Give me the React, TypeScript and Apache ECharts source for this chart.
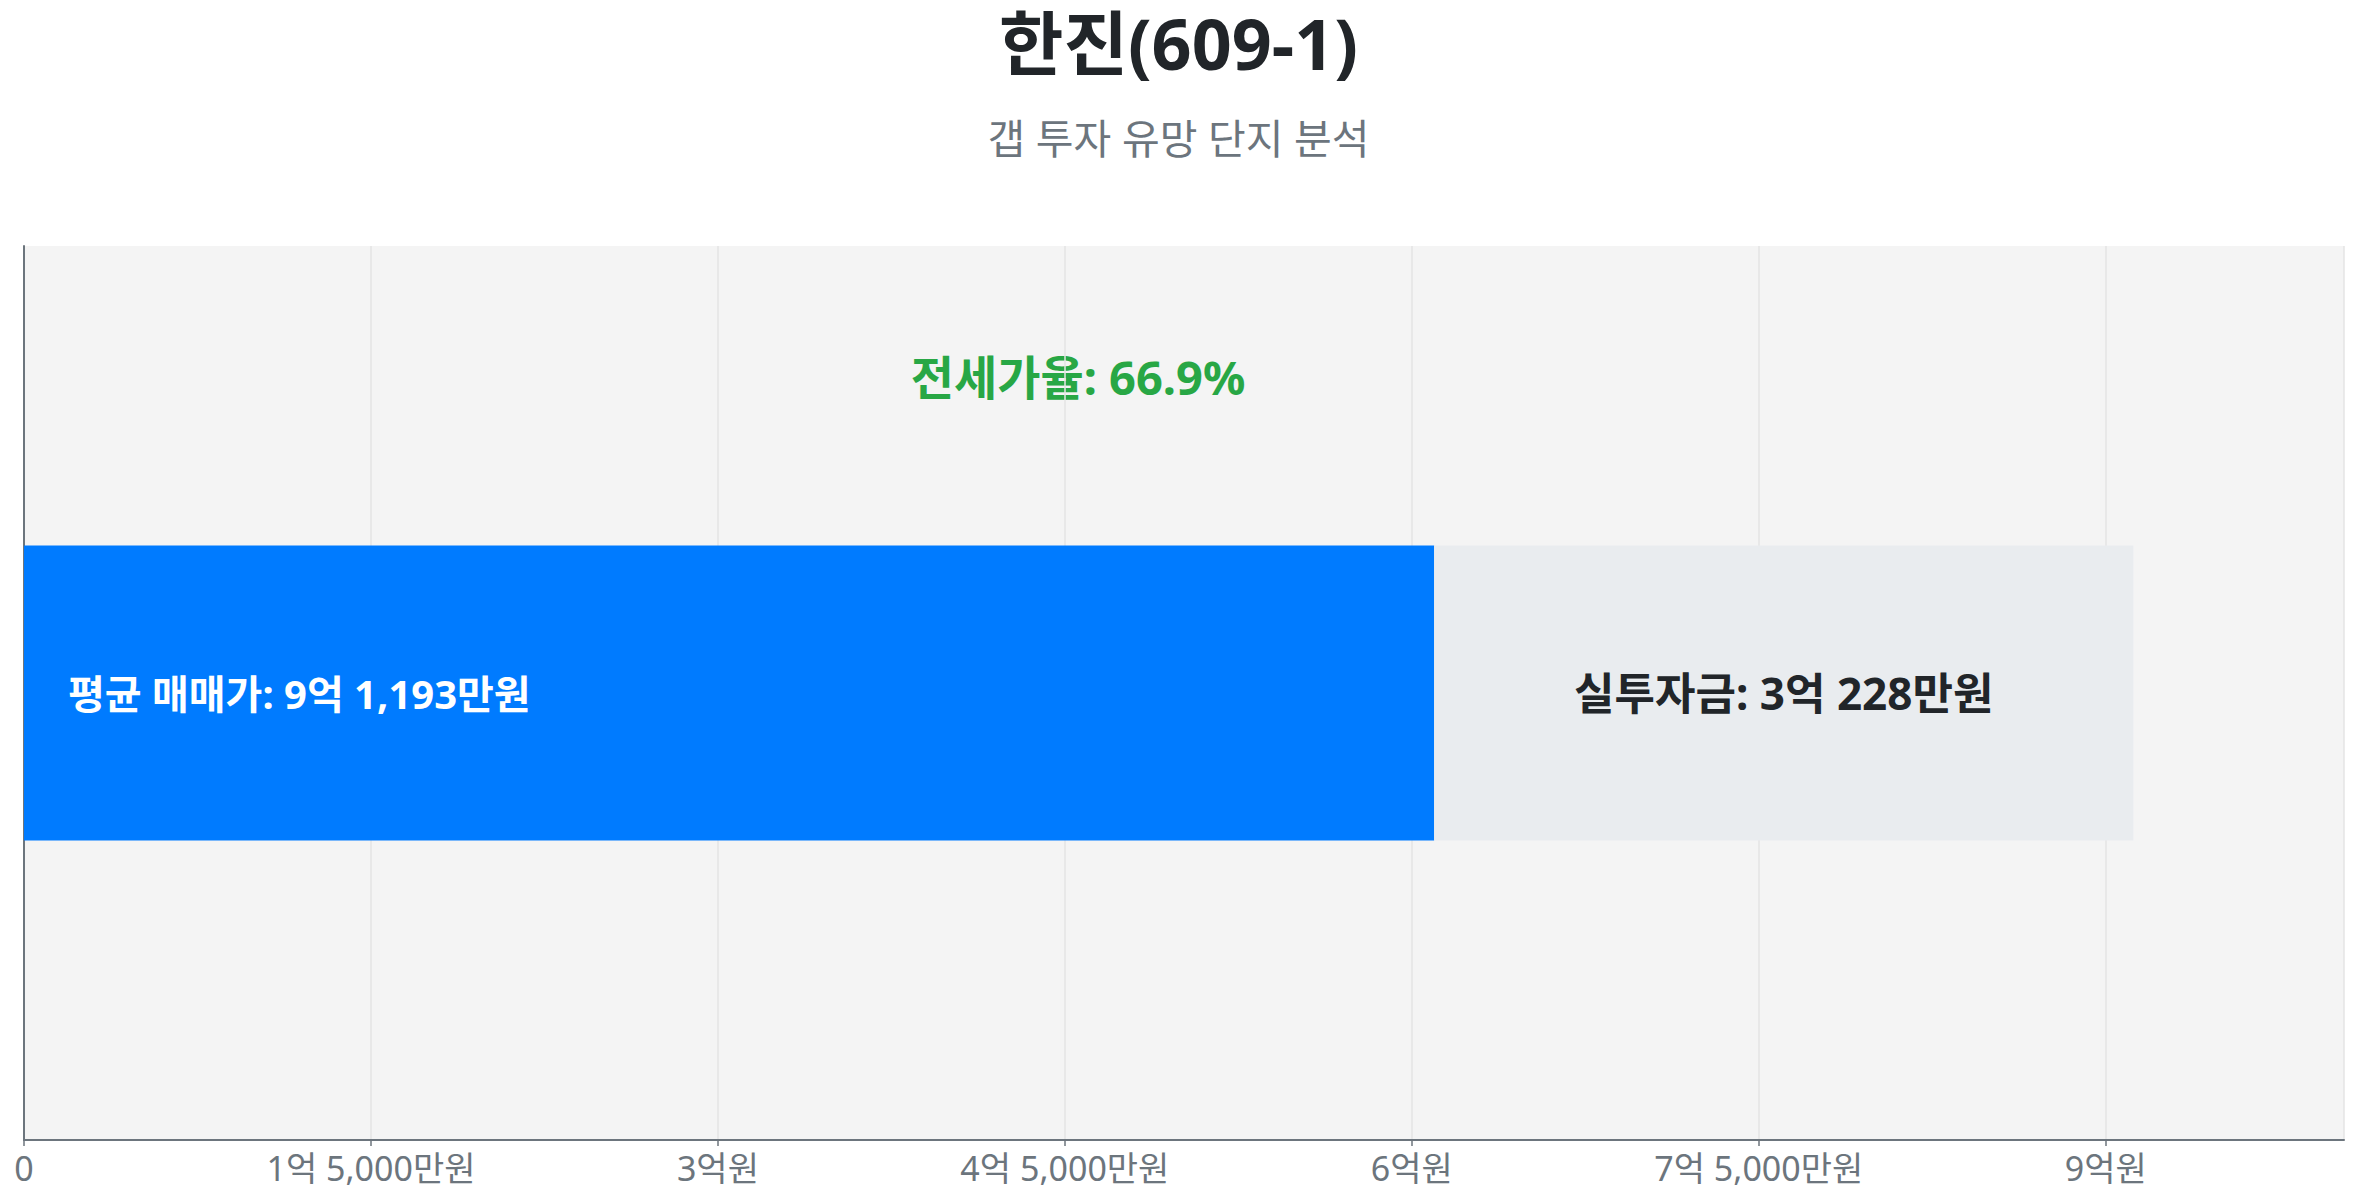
import React, { useRef, useEffect } from "react";
import * as echarts from "echarts";

// 단위: 만원
const complexName = "한진(609-1)";
const subtitle = "갭 투자 유망 단지 분석";
const categories = [complexName];
const avgPrice = [91193];
const jeonsePrice = [60965];
const gapAmount = [30228];
const xTickValues = [0, 15000, 30000, 45000, 60000, 75000, 90000];
const xTickLabels = ["0", "1억 5,000만원", "3억원", "4억 5,000만원", "6억원", "7억 5,000만원", "9억원"];
const xMax = 100300;

const FONT = "'Noto Sans', 'Noto Sans CJK KR', sans-serif";

const fmtWon = (v: number) => {
  const eok = Math.floor(v / 10000);
  const man = v % 10000;
  if (man === 0) return `${eok}억원`;
  return `${eok}억 ${man.toLocaleString("en-US")}만원`;
};

const App = function () {
  const chart = useRef<HTMLDivElement>(null);
  useEffect(() => {
    if (!chart.current) return;
    const myChart = echarts.init(chart.current, null, { renderer: "svg" });
    const ratio = ((jeonsePrice[0] / avgPrice[0]) * 100).toFixed(1);
    const option = {
      animation: false,
      title: [
        {
          text: complexName,
          left: "center",
          top: 0,
          padding: 0,
          textStyle: { fontFamily: FONT, fontSize: 70, lineHeight: 70, fontWeight: "bold", color: "#212529" },
        },
        {
          text: subtitle,
          left: "center",
          top: 104,
          textStyle: { fontFamily: FONT, fontSize: 41, fontWeight: "normal", color: "#6c757d" },
        },
      ],
      graphic: [
        {
          type: "text",
          x: 1070,
          y: 369,
          style: {
            text: `전세가율: ${ratio}%`,
            fill: "#28a745",
            font: `bold 47px ${FONT}`,
            textAlign: "center",
            textVerticalAlign: "middle",
          },
        },
      ],
      grid: {
        left: 16,
        right: 5,
        top: 238,
        bottom: 54,
        show: true,
        backgroundColor: "#f4f4f4",
        borderWidth: 0,
      },
      xAxis: {
        type: "value",
        min: 0,
        max: xMax,
        interval: 15000,
        axisLine: { show: true, lineStyle: { color: "#6c757d", width: 2 } },
        axisTick: { show: true, length: 6, lineStyle: { color: "#6c757d", width: 1.5 } },
        splitLine: { show: true, lineStyle: { color: "#e4e4e4", width: 1.5 } },
        axisLabel: {
          showMaxLabel: false,
          color: "#6c757d",
          fontFamily: FONT,
          fontSize: 34,
          margin: 11,
          formatter: (v: number) => {
            const i = xTickValues.indexOf(v);
            return i >= 0 ? xTickLabels[i] : "";
          },
        },
      },
      yAxis: {
        type: "category",
        data: categories,
        axisLine: { show: true, lineStyle: { color: "#6c757d", width: 2 } },
        axisTick: { show: false },
        axisLabel: { show: false },
      },
      series: [
        {
          name: "전세가",
          type: "bar",
          stack: "total",
          barWidth: "33%",
          data: jeonsePrice,
          itemStyle: { color: "#007bff" },
          label: {
            show: true,
            position: "insideLeft",
            distance: 44,
            formatter: () => `평균 매매가: ${fmtWon(avgPrice[0])}`,
            color: "#ffffff",
            fontFamily: FONT,
            fontSize: 40,
            fontWeight: "bold",
          },
        },
        {
          name: "실투자금",
          type: "bar",
          stack: "total",
          barWidth: "33%",
          data: gapAmount,
          itemStyle: { color: "#e9ecef" },
          label: {
            show: true,
            position: "inside",
            formatter: (p: any) => `실투자금: ${fmtWon(p.value)}`,
            color: "#212529",
            fontFamily: FONT,
            fontSize: 44,
            fontWeight: "bold",
          },
        },
      ],
    };
    myChart.setOption(option);
    return () => {
      myChart.dispose();
    };
  }, []);
  return <div ref={chart} style={{ width: "2341px", height: "1186px" }}></div>;
};

export default App;
